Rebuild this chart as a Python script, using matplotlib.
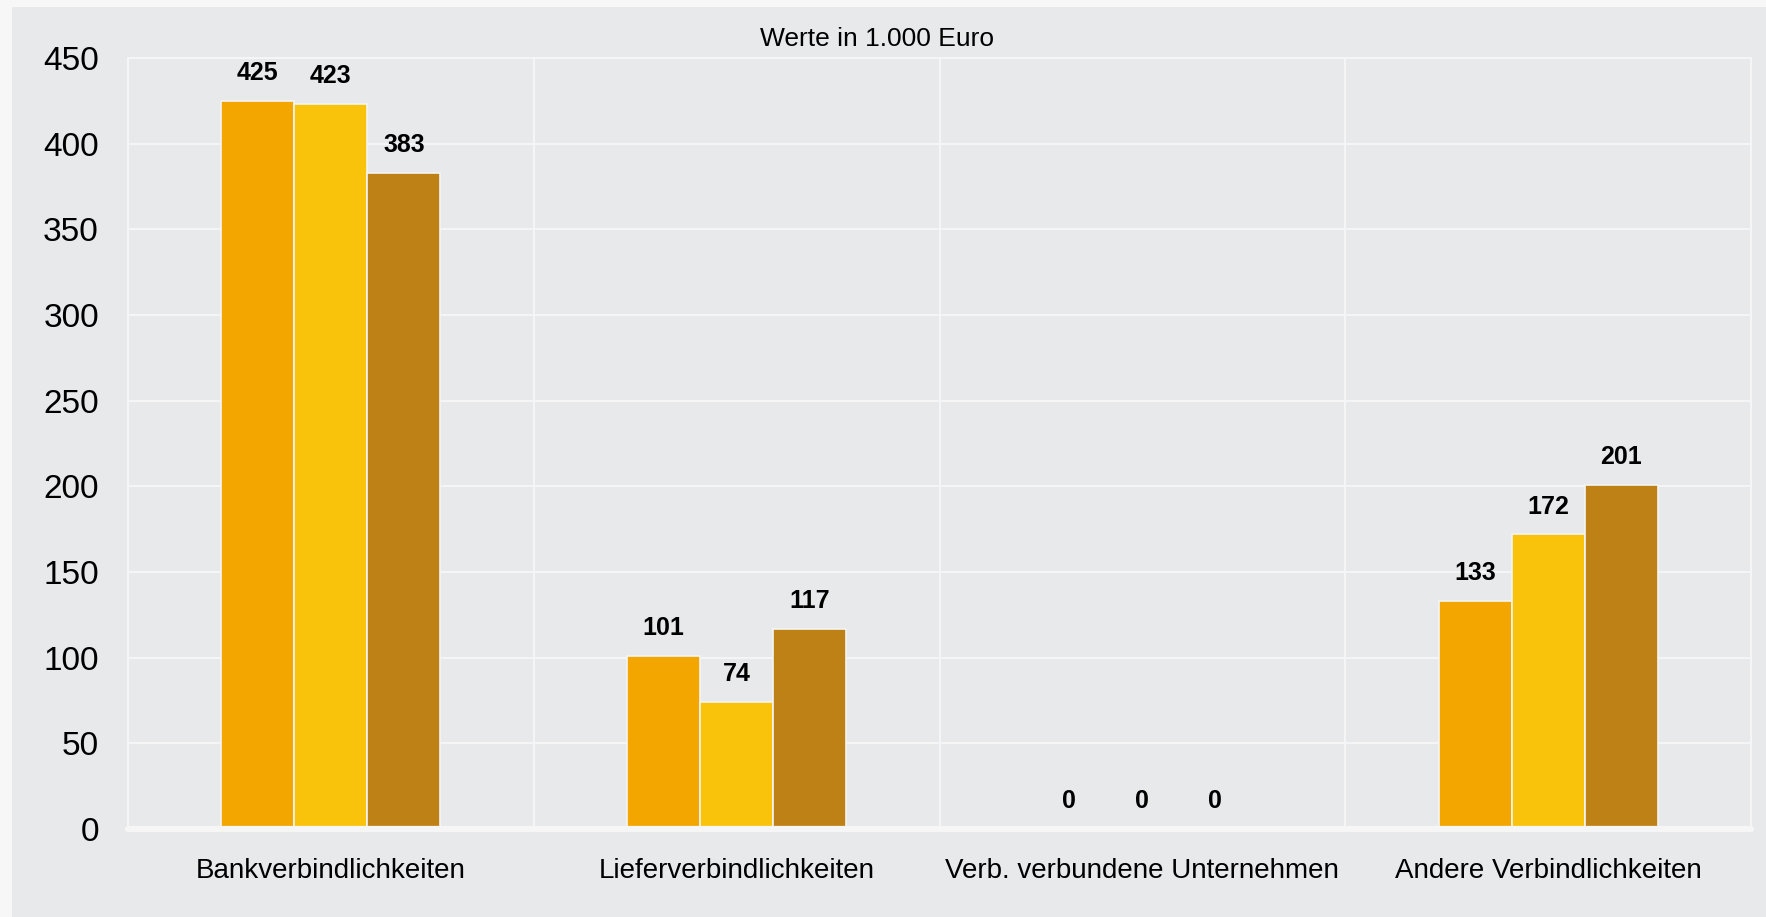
import matplotlib.pyplot as plt
import numpy as np

plt.rcParams['font.family'] = ['Liberation Sans', 'DejaVu Sans']

# data (values in 1.000 Euro)
categories = ["Bankverbindlichkeiten", "Lieferverbindlichkeiten",
              "Verb. verbundene Unternehmen", "Andere Verbindlichkeiten"]
series_1 = [425, 101, 0, 133]
series_2 = [423, 74, 0, 172]
series_3 = [383, 117, 0, 201]
colors = ["#f3a600", "#f9c30c", "#be8116"]

grid_col = "#f5f5f6"
panel_col = "#e8e9eb"

fig = plt.figure(figsize=(17.66, 9.17), dpi=100)
fig.patch.set_facecolor("#f7f7f7")
# grey panel behind the chart
bg = fig.add_axes([12/1766, 0, 1 - 12/1766, 1 - 7/917], zorder=-1)
bg.set_facecolor(panel_col)
bg.set_xticks([]); bg.set_yticks([])
for s in bg.spines.values():
    s.set_visible(False)

ax = fig.add_axes([128/1766, 1 - 829/917, 1623/1766, 771/917], zorder=1)
ax.set_facecolor(panel_col)

x = np.arange(len(categories))
w = 0.18
for i, (vals, c) in enumerate(zip([series_1, series_2, series_3], colors)):
    pos = x + (i - 1) * w
    ax.bar(pos, vals, width=w, color=c, edgecolor="#f4f4f4", linewidth=1.2, zorder=3)
    for px, v in zip(pos, vals):
        ax.annotate(f"{v}", (px, v), xytext=(0, 20), textcoords="offset points",
                    ha="center", va="center", fontsize=18, fontweight="bold", zorder=4)

ax.set_xlim(-0.5, 3.5)
ax.set_ylim(0, 450)
ax.set_yticks(np.arange(0, 451, 50))
ax.set_xticks(x)
ax.set_xticklabels(categories, fontsize=20)
ax.set_xticks(np.arange(-0.5, 3.6, 1), minor=True)
ax.tick_params(axis="both", length=0, which="both")
ax.tick_params(axis="y", labelsize=24, pad=21)
ax.tick_params(axis="x", pad=21)

ax.grid(axis="y", color=grid_col, linewidth=1.5, zorder=1)
ax.grid(axis="x", which="minor", color=grid_col, linewidth=1.5, zorder=1)
ax.grid(axis="x", which="major", visible=False)
ax.set_axisbelow(True)

for s in ["left", "top", "right"]:
    ax.spines[s].set_color(grid_col)
    ax.spines[s].set_linewidth(1.5)
ax.spines["bottom"].set_color("#f6f6f6")
ax.spines["bottom"].set_linewidth(4.5)
ax.spines["bottom"].set_capstyle("round")
ax.spines["bottom"].set_zorder(5)

fig.text(877/1766, 1 - 39/917, "Werte in 1.000 Euro", ha="center", va="center", fontsize=19)

plt.savefig("out.png", dpi=100, facecolor=fig.get_facecolor())
